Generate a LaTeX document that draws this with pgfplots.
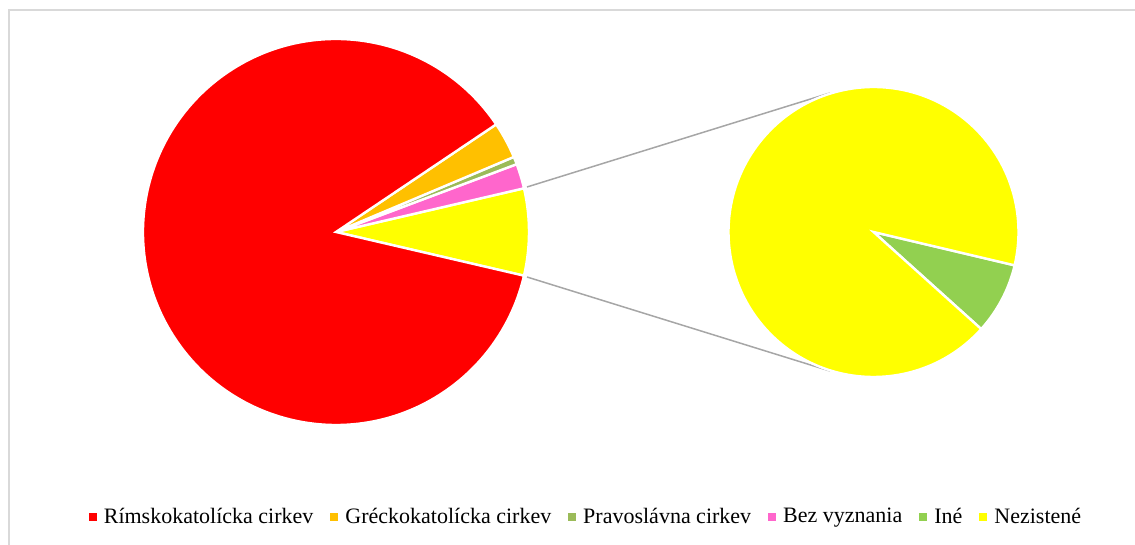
\documentclass[border=0pt]{standalone}
\usepackage{fontspec}
\setmainfont{Liberation Serif}
\usepackage{pgfplots}
\usepackage{pgfplotstable}
\pgfplotsset{compat=1.18}

\definecolor{cRim}{HTML}{FF0000}
\definecolor{cGr}{HTML}{FFC000}
\definecolor{cPr}{HTML}{9BBB59}
\definecolor{cBez}{HTML}{FF66CC}
\definecolor{cIne}{HTML}{92D050}
\definecolor{cNez}{HTML}{FFFF00}
\definecolor{frame}{HTML}{D9D9D9}
\definecolor{conn}{HTML}{A6A6A6}

% share of inhabitants by religion (%)
\pgfplotstableread[col sep=comma]{
name,value
Rímskokatolícka cirkev,86.95
Gréckokatolícka cirkev,3.06
Pravoslávna cirkev,0.64
Bez vyznania,2.08
Iné,0.58
Nezistené,6.69
}\religion

\newcommand\getval[2]{\pgfplotstablegetelem{#1}{value}\of\religion\let#2\pgfplotsretval}

\begin{document}
\begin{tikzpicture}
\getval{0}\vRim
\getval{1}\vGr
\getval{2}\vPr
\getval{3}\vBez
\getval{4}\vIne
\getval{5}\vNez
\pgfmathsetmacro\vOther{\vIne+\vNez}
\pgfmathsetmacro\total{\vRim+\vGr+\vPr+\vBez+\vOther}
% first pie: "other" slice centred on the right
\pgfmathsetmacro\aA{\vOther*180/\total}
\pgfmathsetmacro\aB{\aA+\vBez*360/\total}
\pgfmathsetmacro\aC{\aB+\vPr*360/\total}
\pgfmathsetmacro\aD{\aC+\vGr*360/\total}
\pgfmathsetmacro\aE{360-\aA}
% second pie
\pgfmathsetmacro\sA{-13.3}
\pgfmathsetmacro\sB{\sA-\vIne*360/\vOther}
\pgfmathsetmacro\sC{\sA-360}
\def\rA{96.5pt}
\def\rB{72.5pt}
\begin{axis}[
    x=0.5pt, y=0.5pt,
    xmin=0, xmax=1135, ymin=0, ymax=545,
    hide axis, clip=false,
    legend columns=-1,
    legend style={at={(axis cs:587,28)}, anchor=center, draw=none, fill=none,
        font=\fontsize{11}{13}\selectfont,
        /tikz/every odd column/.append style={column sep=1.5pt},
        /tikz/every even column/.append style={column sep=6.5pt}},
    legend image code/.code={\fill[#1, draw=none] (0pt,-2pt) rectangle (4pt,2pt);},
]
\draw[frame, line width=1pt] (axis cs:1135,535) -- (axis cs:9,535) -- (axis cs:9,0);

% connector lines
\addplot[conn, line width=0.75pt, no marks, forget plot] coordinates {(527,358) (830,452)};
\addplot[conn, line width=0.75pt, no marks, forget plot] coordinates {(527,268) (830,174)};

% first pie
\fill[cNez, draw=white, line width=1.2pt] (axis cs:336,313) -- ++(-\aA:\rA) arc[start angle=-\aA, end angle=\aA, radius=\rA] -- cycle;
\fill[cBez, draw=white, line width=1.2pt] (axis cs:336,313) -- ++(\aA:\rA) arc[start angle=\aA, end angle=\aB, radius=\rA] -- cycle;
\fill[cPr, draw=white, line width=1.2pt] (axis cs:336,313) -- ++(\aB:\rA) arc[start angle=\aB, end angle=\aC, radius=\rA] -- cycle;
\fill[cGr, draw=white, line width=1.2pt] (axis cs:336,313) -- ++(\aC:\rA) arc[start angle=\aC, end angle=\aD, radius=\rA] -- cycle;
\fill[cRim, draw=white, line width=1.2pt] (axis cs:336,313) -- ++(\aD:\rA) arc[start angle=\aD, end angle=\aE, radius=\rA] -- cycle;

% second pie
\fill[cIne, draw=white, line width=1.2pt] (axis cs:873.5,313) -- ++(\sA:\rB) arc[start angle=\sA, end angle=\sB, radius=\rB] -- cycle;
\fill[cNez, draw=white, line width=1.2pt] (axis cs:873.5,313) -- ++(\sB:\rB) arc[start angle=\sB, end angle=\sC, radius=\rB] -- cycle;

\addlegendimage{fill=cRim}\addlegendentry{Rímskokatolícka cirkev}
\addlegendimage{fill=cGr}\addlegendentry{Gréckokatolícka cirkev}
\addlegendimage{fill=cPr}\addlegendentry{Pravoslávna cirkev}
\addlegendimage{fill=cBez}\addlegendentry{Bez vyznania}
\addlegendimage{fill=cIne}\addlegendentry{Iné}
\addlegendimage{fill=cNez}\addlegendentry{Nezistené}
\end{axis}
\pgfresetboundingbox
\path (current axis.south west) rectangle (current axis.north east);
\end{tikzpicture}
\end{document}
